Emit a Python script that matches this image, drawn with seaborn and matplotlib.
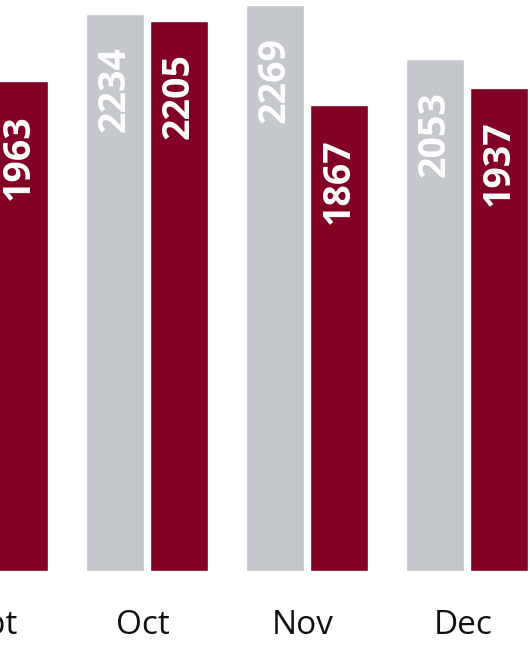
import matplotlib
matplotlib.use("Agg")
import matplotlib.pyplot as plt
import matplotlib.transforms as mtransforms
import seaborn as sns
import pandas as pd

months = ["Sept", "Oct", "Nov", "Dec"]
series = ["Prior", "Current"]
prior_values = [None, 2234, 2269, 2053]
current_values = [1963, 2205, 1867, 1937]

rows = []
for m, p, c in zip(months, prior_values, current_values):
    if p is not None:
        rows.append({"month": m, "series": series[0], "value": p})
    rows.append({"month": m, "series": series[1], "value": c})
df = pd.DataFrame(rows)

sns.set_theme(style="white")
plt.rcParams["font.family"] = ["Open Sans", "DejaVu Sans"]

W, H = 530, 645
extra = 120  # axes extends beyond the left edge of the figure
fig = plt.figure(figsize=(W / 100, H / 100), dpi=100)
ax = fig.add_axes([-extra / W, 74 / H, (W + extra) / W, 571 / H])

palette = {series[0]: "#C4C7CB", series[1]: "#820024"}
sns.barplot(data=df, x="month", y="value", hue="series", order=months,
            hue_order=series, palette=palette, width=0.8, gap=0.1,
            errorbar=None, saturation=1, legend=False, ax=ax)

x0 = 1 - 147 / 160 - extra / 160
ax.set_xlim(x0, x0 + (W + extra) / 160)
ax.set_ylim(0, 571 / 0.2495)

for p in ax.patches:
    h = p.get_height()
    if h is None or h != h or h == 0:
        continue
    ax.annotate(f"{int(round(h))}", (p.get_x() + p.get_width() / 2, h),
                xytext=(0, -23.5), textcoords="offset points",
                ha="center", va="top", rotation=90,
                color="white", fontsize=27, fontweight="bold")

for s in ax.spines.values():
    s.set_visible(False)
ax.set_yticks([])
ax.set_xlabel("")
ax.set_ylabel("")
ax.tick_params(axis="x", length=0, pad=27, labelsize=24, labelcolor="#111111")
offset = mtransforms.ScaledTranslation(-4 / 100, 0, fig.dpi_scale_trans)
for lbl in ax.get_xticklabels():
    lbl.set_transform(lbl.get_transform() + offset)

fig.savefig("out.png", dpi=100)
